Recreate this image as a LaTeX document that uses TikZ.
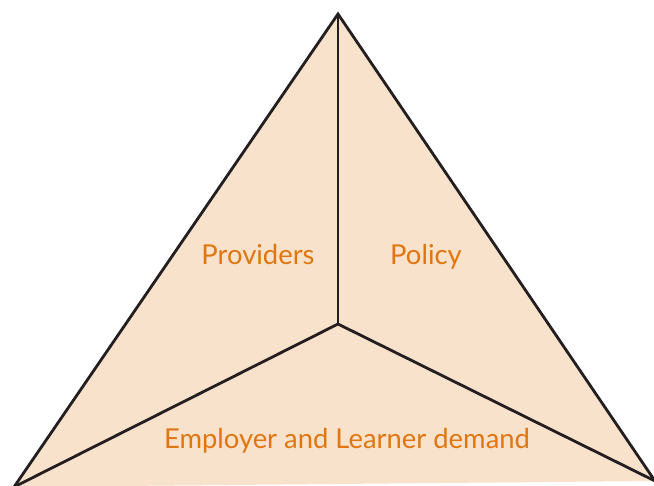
\documentclass[tikz,border=0pt]{standalone}
\usepackage{fontspec}
\setmainfont{Lato}
\usetikzlibrary{positioning}
\definecolor{peach}{RGB}{249,226,204}
\definecolor{rust}{RGB}{224,118,16}
\definecolor{ink}{RGB}{35,31,32}

\begin{document}
\begin{tikzpicture}[x=0.02cm, y=-0.02cm]
  \tikzset{
    edge/.style={draw=ink,line width=1.6pt,line join=miter},
    label/.style={font=\fontsize{15.6}{18}\selectfont,text=rust,inner sep=0pt,anchor=base}
  }
  \useasboundingbox (0,0) rectangle (654,485);
  % corners of the triangle and its centre
  \coordinate (top) at (338,14);
  \coordinate (left) at (14,487);
  \coordinate (right) at (655,481);
  \coordinate (mid) at (338,324);
  \begin{scope}
    \clip (0,0) rectangle (654,485);
    \fill[peach] (top) -- (right) -- (left) -- cycle;
    \draw[edge] (left) -- (top) -- (right);
    \draw[edge] (top) -- (mid);
    \draw[edge] (left) -- (mid) -- (right);
  \end{scope}
  \node[label] (prov) at (258,264) {Providers};
  \node[label] (pol) at (426,264) {Policy};
  \node[label] (emp) at (347,448) {Employer and Learner demand};
\end{tikzpicture}
\end{document}
